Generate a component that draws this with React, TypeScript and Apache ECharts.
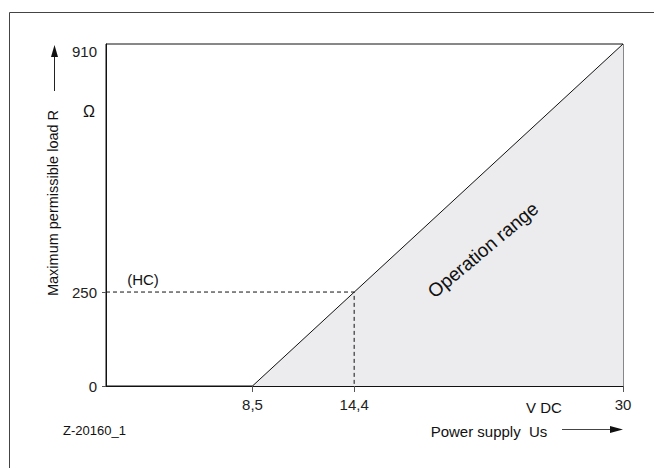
import React, { useEffect, useRef } from "react";
import * as echarts from "echarts";

// Data
const rangeLine: [number, number][] = [
  [8.5, 0],
  [30, 910],
];
const hcPoint: [number, number] = [14.4, 250];
const xTickValues = [8.5, 14.4, 30];
const yTickValues = [0, 250];
const yLabelValues = [0, 250, 910];
const xMin = 0;
const xMax = 30;
const yMin = 0;
const yMax = 910;

const FONT = '"Liberation Sans", Arial, Helvetica, sans-serif';

export default function App() {
  const ref = useRef<HTMLDivElement>(null);

  useEffect(() => {
    if (!ref.current) return;
    const chart = echarts.init(ref.current, undefined, { renderer: "svg" });
    chart.setOption({
      animation: false,
      backgroundColor: "#ffffff",
      textStyle: { fontFamily: FONT },
      grid: {
        left: 106,
        top: 44,
        right: 31,
        bottom: 82,
        show: true,
        borderColor: "#111",
        borderWidth: 1,
        containLabel: false,
      },
      xAxis: {
        type: "value",
        min: xMin,
        max: xMax,
        z: 10,
        axisLine: { show: true, lineStyle: { color: "#111", width: 1.2 } },
        axisTick: {
          show: true,
          customValues: xTickValues,
          length: 6,
          lineStyle: { color: "#555" },
        },
        axisLabel: {
          customValues: xTickValues,
          margin: 11,
          fontSize: 15,
          color: "#222",
          fontFamily: FONT,
          formatter: (v: number) => String(v).replace(".", ","),
        },
        splitLine: { show: false },
      },
      yAxis: {
        type: "value",
        min: yMin,
        max: yMax,
        z: 10,
        axisLine: { show: true, lineStyle: { color: "#111", width: 1 } },
        axisTick: {
          show: true,
          customValues: yTickValues,
          length: 4,
          lineStyle: { color: "#555" },
        },
        axisLabel: {
          customValues: yLabelValues,
          margin: 9,
          fontSize: 15,
          color: "#222",
          fontFamily: FONT,
          formatter: (v: number) => (v === yMax ? "{t|" + v + "}" : String(v)),
          rich: {
            t: { fontSize: 15, color: "#222", fontFamily: FONT, padding: [14, 0, 0, 0] },
          },
        },
        splitLine: { show: false },
      },
      series: [
        {
          type: "line",
          data: rangeLine,
          showSymbol: false,
          symbol: "none",
          lineStyle: { color: "#111", width: 1 },
          areaStyle: { color: "#ececee", opacity: 1, origin: "start" },
          z: 2,
        },
        {
          type: "line",
          data: [
            [xMin, hcPoint[1]],
            hcPoint,
            [hcPoint[0], yMin],
          ],
          showSymbol: false,
          symbol: "none",
          lineStyle: { color: "#111", width: 1, type: [4, 3] },
          z: 3,
        },
      ],
    });

    const hc = chart.convertToPixel({ gridIndex: 0 }, [xMin, hcPoint[1]]) as number[];

    chart.setOption({
      graphic: [
        // outer frame
        { type: "line", z: 20, shape: { x1: 9.5, y1: 12.5, x2: 9.5, y2: 468 }, style: { stroke: "#444", lineWidth: 1 } },
        { type: "line", z: 20, shape: { x1: 9.5, y1: 12.5, x2: 654, y2: 12.5 }, style: { stroke: "#444", lineWidth: 1 } },
        // y axis name + arrow
        {
          type: "text",
          z: 20,
          x: 53,
          y: 203,
          rotation: Math.PI / 2,
          style: {
            text: "Maximum permissible load R",
            fontSize: 14.5,
            fontFamily: FONT,
            fill: "#111",
            align: "center",
            verticalAlign: "middle",
          },
        },
        { type: "line", z: 20, shape: { x1: 54.5, y1: 91, x2: 54.5, y2: 56 }, style: { stroke: "#222", lineWidth: 1 } },
        { type: "polygon", z: 20, shape: { points: [[54.5, 45], [51, 57], [58, 57]] }, style: { fill: "#111" } },
        {
          type: "text",
          z: 20,
          x: 89,
          y: 111,
          style: { text: "Ω", fontSize: 16, fontFamily: FONT, fill: "#111", align: "center", verticalAlign: "middle" },
        },
        // (HC)
        {
          type: "text",
          z: 20,
          x: hc[0] + 37,
          y: hc[1] - 13,
          style: { text: "(HC)", fontSize: 15, fontFamily: FONT, fill: "#111", align: "center", verticalAlign: "middle" },
        },
        // Operation range
        {
          type: "text",
          z: 20,
          x: 483,
          y: 250,
          rotation: (40 * Math.PI) / 180,
          style: {
            text: "Operation range",
            fontSize: 19,
            fontFamily: FONT,
            fill: "#111",
            align: "center",
            verticalAlign: "middle",
          },
        },
        // x unit and name
        {
          type: "text",
          z: 20,
          x: 544,
          y: 407,
          style: { text: "V DC", fontSize: 15, fontFamily: FONT, fill: "#111", align: "center", verticalAlign: "middle" },
        },
        {
          type: "text",
          z: 20,
          x: 489,
          y: 431,
          style: {
            text: "Power supply  Us",
            fontSize: 15,
            fontFamily: FONT,
            fill: "#111",
            align: "center",
            verticalAlign: "middle",
          },
        },
        { type: "line", z: 20, shape: { x1: 562, y1: 429.5, x2: 612, y2: 429.5 }, style: { stroke: "#444", lineWidth: 1 } },
        { type: "polygon", z: 20, shape: { points: [[623, 429.5], [610, 426], [610, 433]] }, style: { fill: "#111" } },
        // figure id
        {
          type: "text",
          z: 20,
          x: 63,
          y: 430,
          style: { text: "Z-20160_1", fontSize: 13, fontFamily: FONT, fill: "#111", align: "left", verticalAlign: "middle" },
        },
      ],
    });

    return () => chart.dispose();
  }, []);

  return (
    <div
      ref={ref}
      style={{ position: "fixed", left: 0, top: 0, width: 654, height: 468, background: "#fff" }}
    />
  );
}
